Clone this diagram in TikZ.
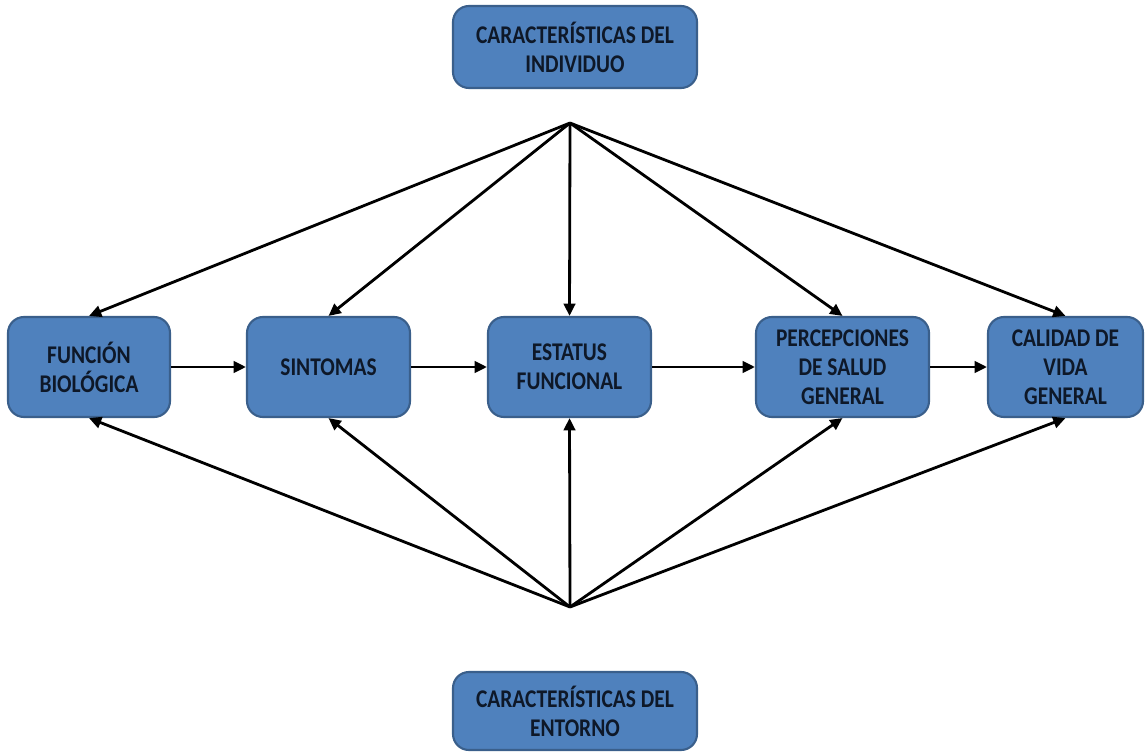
\documentclass[tikz,border=0pt]{standalone}
\usepackage{fontspec}
\setmainfont{Carlito}[FakeStretch=0.84]
\usepackage{xcolor}
\usetikzlibrary{arrows.meta}
\definecolor{boxfill}{HTML}{4F81BD}
\definecolor{boxline}{HTML}{3A5F8B}
\definecolor{boxtext}{HTML}{0E1828}

\begin{document}
\begin{tikzpicture}[font=\fontsize{14.5}{16.5}\selectfont\bfseries,
  box/.style={draw=boxline, line width=1.2pt, fill=boxfill, rounded corners=0.32cm,
    text=boxtext, align=center, inner sep=0pt},
  mid/.style={box, minimum height=2cm},
  link/.style={line width=1.6pt, -{Triangle[length=7pt,width=6.5pt]}}]
  \useasboundingbox (0,0) rectangle (22.9,15.06);
  \node[box, minimum width=4.88cm, minimum height=1.64cm] (indiv) at (11.5,14.12) {CARACTERÍSTICAS DEL\\INDIVIDUO};
  \node[box, minimum width=4.88cm, minimum height=1.56cm] (entorno) at (11.5,0.84) {CARACTERÍSTICAS DEL\\ENTORNO};
  \node[mid, minimum width=3.24cm] (biol) at (1.78,7.72) {FUNCIÓN\\BIOLÓGICA};
  \node[mid, minimum width=3.26cm] (sint) at (6.57,7.72) {SINTOMAS};
  \node[mid, minimum width=3.26cm] (estat) at (11.39,7.72) {ESTATUS\\FUNCIONAL};
  \node[mid, minimum width=3.46cm] (percep) at (16.85,7.72) {PERCEPCIONES\\DE SALUD\\GENERAL};
  \node[mid, minimum width=3.1cm] (calid) at (21.31,7.72) {CALIDAD DE\\VIDA\\GENERAL};
  \coordinate (topjoin) at (11.4,12.6);
  \coordinate (botjoin) at (11.4,2.92);
  % chain
  \draw[link] (biol) -- (sint);
  \draw[link] (sint) -- (estat);
  \draw[link] (estat) -- (percep);
  \draw[link] (percep) -- (calid);
  % fans
  \foreach \n in {biol,sint,estat,percep,calid}{
    \draw[link] (topjoin) -- (\n.north);
    \draw[link] (botjoin) -- (\n.south);
  }
\end{tikzpicture}
\end{document}
